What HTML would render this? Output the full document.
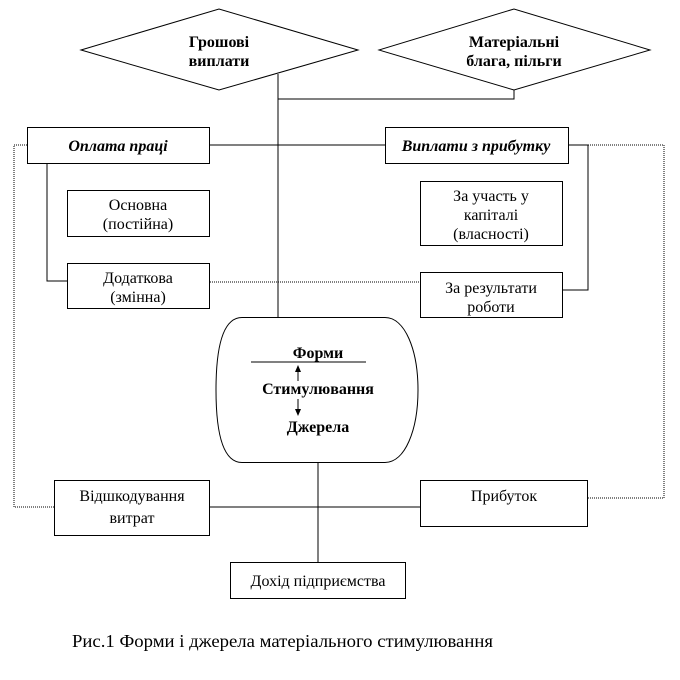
<!DOCTYPE html>
<html><head><meta charset="utf-8"><style>
html,body{margin:0;padding:0;background:#fff;}
svg{display:block;}
text{font-family:"Liberation Serif","DejaVu Serif",serif;fill:#000;}
</style></head><body>
<svg width="680" height="680" viewBox="0 0 680 680" xmlns="http://www.w3.org/2000/svg">
<g fill="none" stroke="#000" stroke-width="1">
<polygon points="81,50 219,9 358,50 219,90" fill="#fff"/>
<polygon points="379,50 514,9 650,50 514,90" fill="#fff"/>
<line x1="278" y1="74" x2="278" y2="317"/>
<polyline points="278,99 514,99 514,90"/>
<line x1="210" y1="145" x2="385" y2="145"/>
<polyline points="568,145 588,145 588,290 562,290"/>
<polyline points="47,163 47,281 67,281"/>
<g stroke-dasharray="1,1">
<line x1="210" y1="282" x2="420" y2="282"/>
<polyline points="27,145 14,145 14,507 54,507"/>
<polyline points="568,145 664,145 664,498 588,498"/>
</g>
<rect x="27.5" y="127.5" width="182" height="36"/>
<rect x="385.5" y="127.5" width="183" height="36"/>
<rect x="67.5" y="190.5" width="142" height="46"/>
<rect x="67.5" y="263.5" width="142" height="45"/>
<rect x="420.5" y="181.5" width="142" height="64"/>
<rect x="420.5" y="272.5" width="142" height="45"/>
<path d="M242,317.5 H385 C405,317.5 418,350 418,390 C418,430 405,462.5 385,462.5 H242 C222,462.5 216,430 216,390 C216,350 222,317.5 242,317.5 Z"/>
<line x1="251" y1="362" x2="366" y2="362"/>
<line x1="298" y1="381" x2="298" y2="370"/>
<line x1="298" y1="399" x2="298" y2="410"/>
<line x1="318" y1="462" x2="318" y2="562"/>
<line x1="210" y1="507" x2="420" y2="507"/>
<rect x="54.5" y="480.5" width="155" height="55"/>
<rect x="420.5" y="480.5" width="167" height="46"/>
<rect x="230.5" y="562.5" width="175" height="36"/>
</g>
<polygon points="298,365 295,372 301,372" fill="#000"/>
<polygon points="298,416 295,409 301,409" fill="#000"/>
<g font-size="16" text-anchor="middle">
<text x="219" y="47" font-weight="bold">Грошові</text>
<text x="219" y="66" font-weight="bold">виплати</text>
<text x="514" y="47" font-weight="bold">Матеріальні</text>
<text x="514" y="66" font-weight="bold">блага, пільги</text>
<text x="118" y="151" font-weight="bold" font-style="italic">Оплата праці</text>
<text x="476" y="151" font-weight="bold" font-style="italic">Виплати з прибутку</text>
<text x="138" y="210">Основна</text>
<text x="138" y="229">(постійна)</text>
<text x="138" y="283">Додаткова</text>
<text x="138" y="302">(змінна)</text>
<text x="491" y="201">За участь у</text>
<text x="491" y="220">капіталі</text>
<text x="491" y="239">(власності)</text>
<text x="491" y="293">За результати</text>
<text x="491" y="312">роботи</text>
<text x="318" y="358" font-weight="bold">Форми</text>
<text x="318" y="394" font-weight="bold">Стимулювання</text>
<text x="318" y="432" font-weight="bold">Джерела</text>
<text x="132" y="501">Відшкодування</text>
<text x="132" y="523">витрат</text>
<text x="504" y="501">Прибуток</text>
<text x="318" y="586">Дохід підприємства</text>
</g>
<text x="72" y="647" font-size="18" textLength="421" lengthAdjust="spacingAndGlyphs">Рис.1 Форми і джерела матеріального стимулювання</text>
</svg>
</body></html>
